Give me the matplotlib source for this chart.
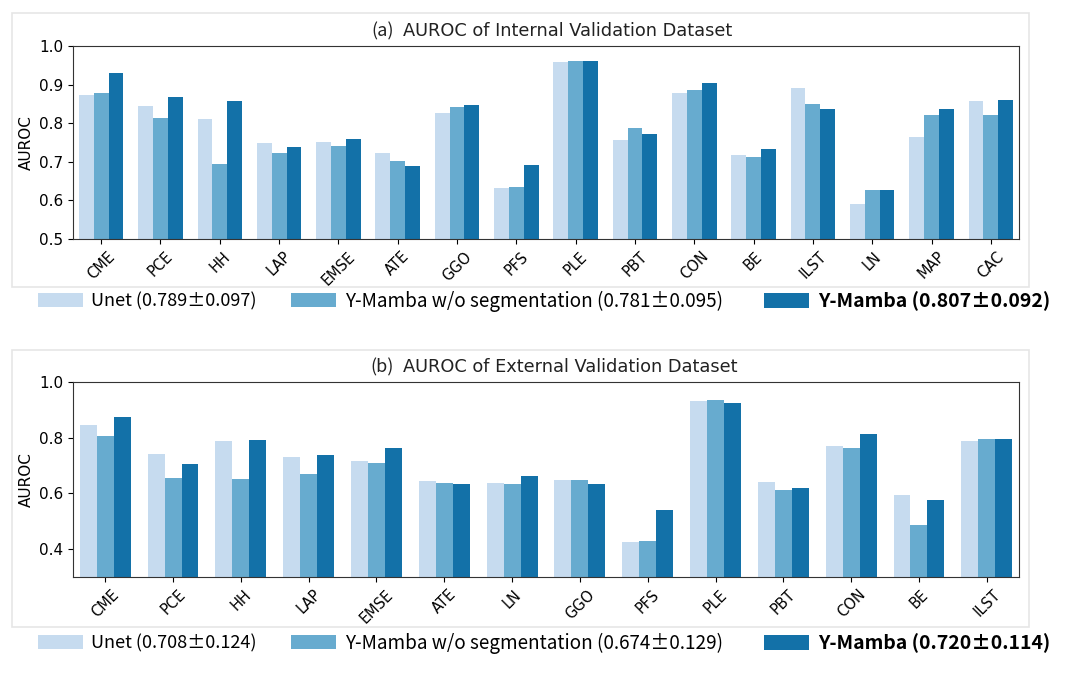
import matplotlib
matplotlib.use("Agg")
import matplotlib.pyplot as plt
import numpy as np
from matplotlib.patches import Rectangle, Patch

plt.rcParams['font.family'] = ['DejaVu Sans']

# (a) internal validation
cats_int = ['CME', 'PCE', 'HH', 'LAP', 'EMSE', 'ATE', 'GGO', 'PFS',
            'PLE', 'PBT', 'CON', 'BE', 'ILST', 'LN', 'MAP', 'CAC']
unet_int = [0.874, 0.844, 0.812, 0.748, 0.751, 0.723, 0.827, 0.631,
            0.958, 0.756, 0.877, 0.717, 0.890, 0.590, 0.763, 0.858]
noseg_int = [0.879, 0.814, 0.695, 0.722, 0.741, 0.702, 0.843, 0.634,
             0.962, 0.787, 0.885, 0.713, 0.851, 0.626, 0.821, 0.821]
ymamba_int = [0.929, 0.869, 0.858, 0.739, 0.758, 0.690, 0.846, 0.693,
              0.960, 0.773, 0.905, 0.732, 0.838, 0.626, 0.836, 0.859]

# (b) external validation
cats_ext = ['CME', 'PCE', 'HH', 'LAP', 'EMSE', 'ATE', 'LN', 'GGO',
            'PFS', 'PLE', 'PBT', 'CON', 'BE', 'ILST']
unet_ext = [0.846, 0.742, 0.787, 0.730, 0.715, 0.643, 0.637, 0.649,
            0.425, 0.932, 0.640, 0.772, 0.596, 0.788]
noseg_ext = [0.805, 0.655, 0.652, 0.671, 0.711, 0.639, 0.634, 0.649,
             0.430, 0.935, 0.614, 0.763, 0.487, 0.797]
ymamba_ext = [0.876, 0.705, 0.793, 0.738, 0.763, 0.633, 0.664, 0.635,
              0.542, 0.925, 0.621, 0.814, 0.577, 0.797]

labels_int = ['Unet (0.789\u00b10.097)', 'Y-Mamba w/o segmentation (0.781\u00b10.095)',
              'Y-Mamba (0.807\u00b10.092)']
labels_ext = ['Unet (0.708\u00b10.124)', 'Y-Mamba w/o segmentation (0.674\u00b10.129)',
              'Y-Mamba (0.720\u00b10.114)']

colors = ['#c6dbef', '#67abcf', '#1371a8']
cjk = ['Noto Sans CJK SC', 'DejaVu Sans']
leg_x = [38, 291, 764]   # left edge of each legend swatch, px
leg_size = [13, 13.6, 14]

W, H = 1080, 676
fig = plt.figure(figsize=(10.8, 6.76), dpi=100)


def fx(px):
    return px / W


def fy(py):
    return 1 - py / H


def panel(box, ax_rect, cats, series, ylim, yticks, tag, title, labels, leg_y):
    # light frame around each panel
    x0, y0, x1, y1 = box
    fig.patches.append(Rectangle((fx(x0), fy(y1)), fx(x1 - x0), (y1 - y0) / H,
                                 transform=fig.transFigure, fill=False,
                                 edgecolor='#e6e6e6', lw=1.2))
    l, t, r, b = ax_rect
    ax = fig.add_axes([fx(l), fy(b), fx(r - l), (b - t) / H])
    x = np.arange(len(cats))
    w = 0.25
    for i, (vals, c) in enumerate(zip(series, colors)):
        ax.bar(x + (i - 1) * w, vals, w, color=c)
    ax.set_xlim(-0.475, len(cats) - 1 + 0.475)
    ax.set_ylim(*ylim)
    ax.set_yticks(yticks)
    ax.set_xticks(x)
    ax.set_xticklabels(cats, rotation=45, fontsize=10.5)
    ax.tick_params(axis='y', labelsize=11)
    ax.set_ylabel('AUROC', fontsize=11)
    for s in ax.spines.values():
        s.set_color('#333333')
    # title: tag in CJK font, text in DejaVu
    fig.text(fx(394), fy(t - 15), tag, ha='right', va='center',
             fontsize=13, family=cjk, color='#222222')
    fig.text(fx(403), fy(t - 15), title, ha='left', va='center',
             fontsize=12.8, color='#222222')
    # one legend per entry so each sits where it does in the source figure
    for k in range(3):
        leg = fig.legend([Patch(facecolor=colors[k])], [labels[k]],
                         loc='center left', bbox_to_anchor=(fx(leg_x[k]), fy(leg_y)),
                         frameon=False, prop={'family': cjk, 'size': leg_size[k]},
                         handlelength=2.5 * 13 / leg_size[k],
                         handleheight=0.85 * 13 / leg_size[k],
                         handletextpad=0.45, borderaxespad=0, borderpad=0)
        if k == 2:
            leg.get_texts()[0].set_fontweight('bold')
    return ax


panel((12, 13, 1029, 287), (73, 46, 1019, 239), cats_int,
      [unet_int, noseg_int, ymamba_int], (0.5, 1.0),
      [0.5, 0.6, 0.7, 0.8, 0.9, 1.0], '(a)',
      'AUROC of Internal Validation Dataset', labels_int, 301)

panel((12, 350, 1029, 627), (73, 382, 1019, 577), cats_ext,
      [unet_ext, noseg_ext, ymamba_ext], (0.3, 1.0),
      [0.4, 0.6, 0.8, 1.0], '(b)',
      'AUROC of External Validation Dataset', labels_ext, 643)

fig.savefig('out.png', dpi=100)
